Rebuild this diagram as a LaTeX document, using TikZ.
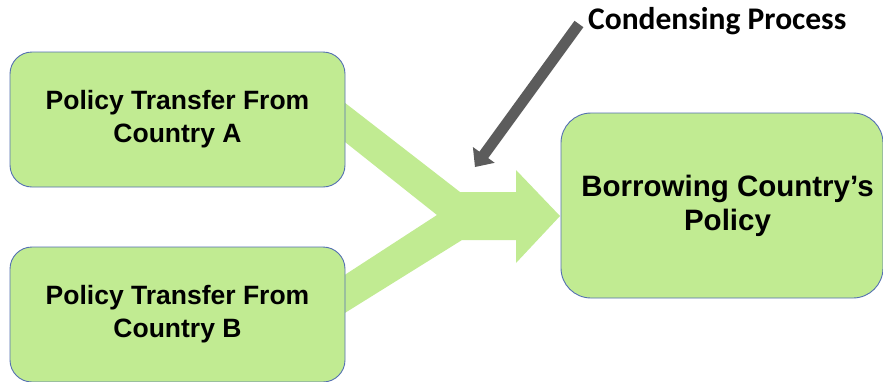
\documentclass[tikz,border=0pt]{standalone}
\usepackage{fontspec}
\setmainfont{Liberation Sans}
\newfontfamily\labelfont{Carlito}
\definecolor{boxfill}{RGB}{193,235,146}
\definecolor{boxline}{RGB}{84,112,178}
\definecolor{pointer}{RGB}{92,92,92}
\newcommand{\nudge}{\hspace*{11pt}}
\begin{document}
\begin{tikzpicture}[x=1pt,y=-1pt,
  policybox/.style={draw=boxline, fill=boxfill, line width=0.9pt,
    rounded corners=22pt, minimum width=335pt, minimum height=135pt,
    align=center, inner sep=0pt,
    font=\bfseries\fontsize{26.5}{33}\selectfont},
  resultbox/.style={policybox, rounded corners=30pt,
    minimum width=322pt, minimum height=185pt,
    font=\bfseries\fontsize{29.5}{34}\selectfont}]
\useasboundingbox (0,0) rectangle (883,381);
\fill[white] (0,0) rectangle (883,381);

% merging block arrow, drawn beneath the boxes
\fill[boxfill] (340,99) -- (460,192) -- (516,192) -- (516,170) -- (560,216)
  -- (516,263) -- (516,240) -- (462,240) -- (340,316) -- (340,278)
  -- (437,215) -- (340,138) -- cycle;

\node[policybox] (srcA) at (177.5,119.5) {Policy Transfer From\\Country A};
\node[policybox] (srcB) at (177.5,314.5) {Policy Transfer From\\Country B};
\node[resultbox] (dest) at (722,205.5) {\nudge Borrowing Country’s\\\nudge Policy};

% pointer from the label down to the merge point
\coordinate (ptail) at (579,24);
\coordinate (ptip) at (475,167);
\fill[pointer] (574.5,20.8) -- (583.4,27.2) -- (488.2,158.1) -- (494.7,162.8)
  -- (ptip) -- (472.9,147) -- (479.4,151.7) -- cycle;

\node[anchor=base west, inner sep=0pt,
  font=\labelfont\bfseries\fontsize{31.5}{37}\selectfont] (cond) at (588,29.5)
  {Condensing Process};
\end{tikzpicture}
\end{document}
